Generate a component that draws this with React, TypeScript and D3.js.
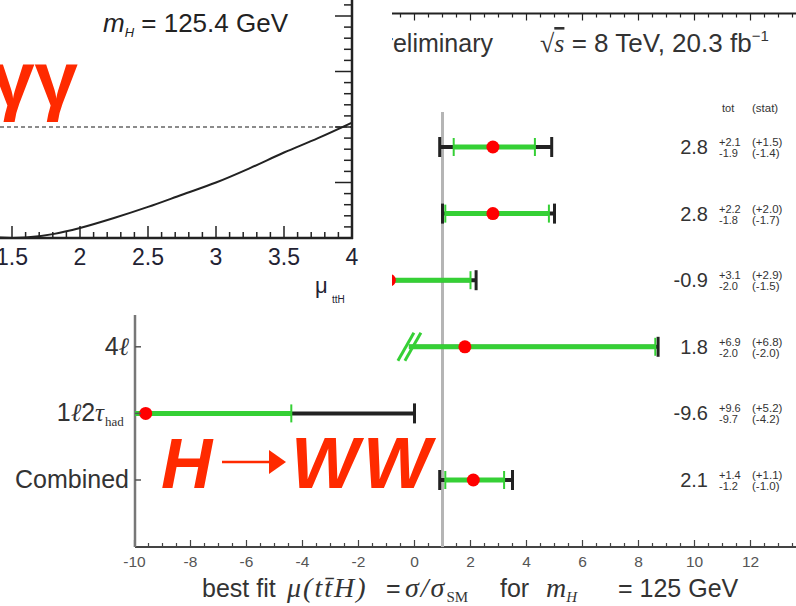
import * as d3 from "d3";

// main chart: ttH signal strength per channel
const rowMain = ["2ℓ0τ", "3ℓ", "2ℓ1τ", "4ℓ", "1ℓ2τ", "Combined"];
const rowSub = ["had", "", "had", "", "had", ""];
const muFit = [2.8, 2.8, -0.9, 1.8, -9.6, 2.1];
const totUp = [2.1, 2.2, 3.1, 6.9, 9.6, 1.4];
const totDn = [1.9, 1.8, 2.0, 2.0, 9.7, 1.2];
const statUp = [1.5, 2.0, 2.9, 6.8, 5.2, 1.1];
const statDn = [1.4, 1.7, 1.5, 2.0, 4.2, 1.0];
const brokenLow = [false, false, false, true, false, false];
const xTicks = d3.range(-10, 13, 2);

// inset: gamma-gamma likelihood scan
const ggMu = [1.0, 1.2, 1.4, 1.5, 1.6, 1.8, 2.0, 2.25, 2.5, 2.75, 3.0, 3.25, 3.5, 3.75, 4.0];
const ggNll = [0.08, 0.03, 0.005, 0.0, 0.004, 0.035, 0.09, 0.18, 0.28, 0.39, 0.5, 0.63, 0.77, 0.9, 1.04];
const ggXTicks = [1.5, 2, 2.5, 3, 3.5, 4];

const SANS = "'Liberation Sans', Arial, Helvetica, sans-serif";
const SERIF = "'Liberation Serif', 'DejaVu Serif', serif";
const GREEN = "#35d035";
const RED = "#ff2a00";
const INSET_W = 392;
const INSET_H = 315;

function label(main: string) {
  return main.split("").map((c, i) =>
    c === "ℓ" || c === "τ" ? (
      <tspan key={i} fontFamily={SERIF} fontStyle="italic">{c}</tspan>
    ) : (
      <tspan key={i}>{c}</tspan>
    )
  );
}

export default function App() {
  const x = d3.scaleLinear().domain([-10, 14]).range([134.5, 806.5]);
  const y = d3.scalePoint<number>().domain(d3.range(6)).range([147, 480]);
  const axisY = 547;
  const topY = 13.5;
  const minor = d3.range(-10, 14.01, 0.5);

  // inset scales
  const gx = d3.scaleLinear().domain([1, 4]).range([-56, 352]);
  const gy = d3.scaleLinear().domain([0, 2]).range([238, 16]);
  const ggLine = d3
    .line<number>()
    .x((d, i) => gx(ggMu[i]))
    .y((d) => gy(d))
    .curve(d3.curveCatmullRom);
  const gMinorX = d3.range(1, 4.001, 0.1);
  const gMinorY = d3.range(0, 2.21, 0.1);

  return (
    <svg
      width={796}
      height={606}
      style={{ position: "absolute", left: 0, top: 0, background: "#fff" }}
      fontFamily={SANS}
    >
      <defs>
        <clipPath id="plotClip">
          <rect x={135} y={0} width={700} height={axisY} />
        </clipPath>
        <clipPath id="ggClip">
          <rect x={-100} y={0} width={452} height={238} />
        </clipPath>
      </defs>

      {/* main frame */}
      <line x1={135} x2={796} y1={topY} y2={topY} stroke="#222" strokeWidth={2} />
      {minor.map((v) => (
        <line key={"t" + v} x1={x(v)} x2={x(v)} y1={topY} y2={topY + (v % 2 === 0 ? 7 : 4)} stroke="#222" strokeWidth={1.2} />
      ))}
      <line x1={135} x2={796} y1={axisY} y2={axisY} stroke="#444" strokeWidth={2} />
      {minor.map((v) => (
        <line key={"b" + v} x1={x(v)} x2={x(v)} y1={axisY} y2={axisY - (v % 2 === 0 ? 7 : 4)} stroke="#444" strokeWidth={1.2} />
      ))}
      <line x1={135} x2={135} y1={topY} y2={axisY} stroke="#777" strokeWidth={2.5} />
      {xTicks.map((v) => (
        <text key={"xl" + v} x={x(v)} y={567} fontSize={15.5} fill="#555" textAnchor="middle">
          {v}
        </text>
      ))}

      {/* SM reference line */}
      <line x1={x(1)} x2={x(1)} y1={112} y2={axisY} stroke="#b5b5b5" strokeWidth={3} />

      {/* rows */}
      <g clipPath="url(#plotClip)">
        {muFit.map((m, i) => {
          const yy = y(i) as number;
          const tLo = x(m - totDn[i]);
          const tHi = x(m + totUp[i]);
          const sLo = x(m - statDn[i]);
          const sHi = x(m + statUp[i]);
          const br = brokenLow[i];
          return (
            <g key={"r" + i}>
              <line x1={tLo} x2={tHi} y1={yy} y2={yy} stroke="#222" strokeWidth={4} />
              {!br && <line x1={tLo} x2={tLo} y1={yy - 10} y2={yy + 10} stroke="#222" strokeWidth={3} />}
              <line x1={tHi} x2={tHi} y1={yy - 10} y2={yy + 10} stroke="#222" strokeWidth={3} />
              <line x1={sLo} x2={sHi} y1={yy} y2={yy} stroke={GREEN} strokeWidth={5} />
              {!br && <line x1={sLo} x2={sLo} y1={yy - 9} y2={yy + 9} stroke={GREEN} strokeWidth={2} />}
              <line x1={sHi} x2={sHi} y1={yy - 9} y2={yy + 9} stroke={GREEN} strokeWidth={2} />
              {br && (
                <g stroke={GREEN} strokeWidth={3}>
                  <line x1={tLo - 11} x2={tLo + 5} y1={yy + 14} y2={yy - 14} />
                  <line x1={tLo - 4} x2={tLo + 12} y1={yy + 14} y2={yy - 14} />
                </g>
              )}
              <circle cx={x(m)} cy={yy} r={6.5} fill="#ff0000" />
            </g>
          );
        })}
      </g>

      {/* row labels (the upper ones sit under the inset) */}
      {rowMain.map((lab, i) => {
        const yy = y(i) as number;
        if (yy < INSET_H) return null;
        return (
          <g key={"l" + i}>
            <line x1={135} x2={141} y1={yy} y2={yy} stroke="#555" strokeWidth={1.5} />
            <text x={rowSub[i] ? 104 : 129} y={yy + 8} fontSize={25} fill="#333" textAnchor="end">
              {label(lab)}
            </text>
            {rowSub[i] && (
              <text x={105} y={yy + 13} fontSize={13} fill="#333" fontFamily={SERIF}>
                {rowSub[i]}
              </text>
            )}
          </g>
        );
      })}

      {/* values column */}
      <text x={722} y={112} fontSize={11} fill="#333">tot</text>
      <text x={752} y={112} fontSize={11.5} fill="#333">(stat)</text>
      {muFit.map((m, i) => {
        const yy = y(i) as number;
        return (
          <g key={"v" + i} fill="#333">
            <text x={708} y={yy + 7} fontSize={20} textAnchor="end">{m.toFixed(1)}</text>
            <text x={719} y={yy - 1} fontSize={11}>{"+" + totUp[i].toFixed(1)}</text>
            <text x={719} y={yy + 10} fontSize={11}>{"-" + totDn[i].toFixed(1)}</text>
            <text x={752} y={yy - 1} fontSize={11.5}>{"(+" + statUp[i].toFixed(1) + ")"}</text>
            <text x={752} y={yy + 10} fontSize={11.5}>{"(-" + statDn[i].toFixed(1) + ")"}</text>
          </g>
        );
      })}

      {/* header */}
      <text x={493} y={52} fontSize={25} fill="#333" textAnchor="end">
        <tspan fontWeight="bold" fontStyle="italic">ATLAS</tspan> Preliminary
      </text>
      <text x={540} y={52} fontSize={26} fill="#333">
        <tspan fontFamily={SERIF}>√</tspan>
        <tspan fontFamily={SERIF} fontStyle="italic" textDecoration="overline">s</tspan>
        <tspan> = 8 TeV, 20.3 fb</tspan>
        <tspan dy={-11} fontSize={15}>−1</tspan>
      </text>

      {/* x title */}
      <text y={597} fontSize={25} fill="#333">
        <tspan x={202}>best fit</tspan>
        <tspan x={287} fontFamily={SERIF} fontStyle="italic" fontSize={28} letterSpacing={2}>μ(tt̄H)</tspan>
        <tspan x={386}>=</tspan>
        <tspan x={405} fontFamily={SERIF} fontStyle="italic" fontSize={28} letterSpacing={2}>σ/σ</tspan>
        <tspan fontFamily={SERIF} fontSize={15} dy={5}>SM</tspan>
        <tspan x={500} dy={-5}>for</tspan>
        <tspan x={546} fontFamily={SERIF} fontStyle="italic" fontSize={28}>m</tspan>
        <tspan fontFamily={SERIF} fontStyle="italic" fontSize={15} dy={5}>H</tspan>
        <tspan x={618} dy={-5}>= 125 GeV</tspan>
      </text>

      {/* inset: H -> gamma gamma scan */}
      <rect x={0} y={0} width={INSET_W} height={INSET_H} fill="#fff" />
      <line x1={0} x2={352} y1={gy(1)} y2={gy(1)} stroke="#666" strokeWidth={1.5} strokeDasharray="4 3" />
      <path d={ggLine(ggNll) || ""} fill="none" stroke="#222" strokeWidth={2} clipPath="url(#ggClip)" />
      <line x1={0} x2={353} y1={238} y2={238} stroke="#222" strokeWidth={2.5} />
      <line x1={352} x2={352} y1={0} y2={239} stroke="#222" strokeWidth={2.5} />
      {gMinorX.map((v, i) => (
        <line key={"gx" + i} x1={gx(v)} x2={gx(v)} y1={238} y2={238 - (i % 5 === 0 ? 12 : 6)} stroke="#222" strokeWidth={1.5} />
      ))}
      {gMinorY.map((v, i) => (
        <line key={"gy" + i} x1={352} x2={352 - (i % 5 === 0 ? 17 : 8)} y1={gy(v)} y2={gy(v)} stroke="#222" strokeWidth={1.5} />
      ))}
      {ggXTicks.map((v) => (
        <text key={"gl" + v} x={gx(v)} y={265} fontSize={23} fill="#223" textAnchor="middle">
          {v}
        </text>
      ))}
      <text x={315} y={293} fontSize={22} fill="#223">μ</text>
      <text x={332} y={303} fontSize={10} fill="#223">ttH</text>
      <text x={103} y={32} fontSize={26} fill="#222">
        <tspan fontStyle="italic">m</tspan>
        <tspan fontStyle="italic" fontSize={13} dy={5}>H</tspan>
        <tspan dy={-5}> = 125.4 GeV</tspan>
      </text>
      <text x={78} y={106} fontSize={78} fontWeight="bold" fill={RED} textAnchor="end">
        γγ
      </text>

      {/* H -> WW label */}
      <text x={161} y={488} fontSize={71} fontWeight="bold" fontStyle="italic" fill={RED}>H</text>
      <line x1={222} x2={272} y1={462} y2={462} stroke={RED} strokeWidth={2.5} />
      <polygon points="269,450 286,462 269,474" fill={RED} />
      <text x={291} y={488} fontSize={72} fontWeight="bold" fontStyle="italic" fill={RED} letterSpacing={4}>WW</text>
    </svg>
  );
}
